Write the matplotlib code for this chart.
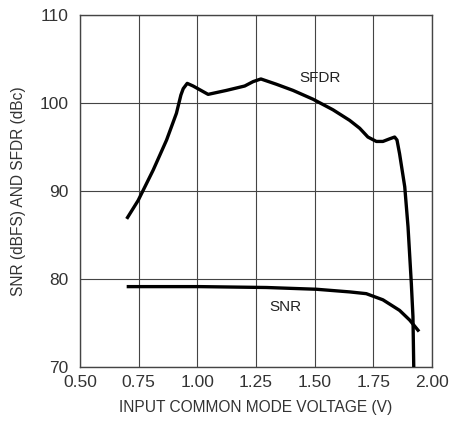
import matplotlib
matplotlib.use("Agg")
import matplotlib.pyplot as plt

# data
sfdr_v = [0.699, 0.748, 0.812, 0.869, 0.911, 0.930, 0.940, 0.957, 0.982, 1.046, 1.124,
          1.202, 1.238, 1.271, 1.337, 1.408, 1.493, 1.578, 1.649, 1.692, 1.727, 1.763,
          1.791, 1.820, 1.841, 1.851, 1.862, 1.884, 1.898, 1.912, 1.919, 1.923]
sfdr_db = [86.8, 88.9, 92.35, 95.76, 98.8, 100.87, 101.6, 102.2, 101.9, 100.95, 101.4,
           101.9, 102.4, 102.7, 102.1, 101.4, 100.4, 99.2, 98.0, 97.1, 96.1, 95.6,
           95.6, 95.9, 96.1, 95.76, 94.2, 90.45, 85.9, 79.5, 75.7, 69.0]

snr_v = [0.699, 1.011, 1.295, 1.508, 1.649, 1.720, 1.791, 1.862, 1.905, 1.945]
snr_db = [79.1, 79.1, 79.0, 78.8, 78.5, 78.3, 77.6, 76.4, 75.3, 74.0]

x_ticks = [0.50, 0.75, 1.00, 1.25, 1.50, 1.75, 2.00]
x_ticklabels = ["0.50", "0.75", "1.00", "1.25", "1.50", "1.75", "2.00"]
y_ticks = [70, 80, 90, 100, 110]

plt.rcParams["font.family"] = ["Liberation Sans", "DejaVu Sans"]

fig = plt.figure(figsize=(4.61, 4.21), dpi=100)
ax = fig.add_axes([0.1735, 0.129, 0.7635, 0.836])

ax.plot(sfdr_v, sfdr_db, color="black", lw=2.4, solid_capstyle="butt", zorder=3)
ax.plot(snr_v, snr_db, color="black", lw=2.4, solid_capstyle="butt", zorder=3)

ax.set_xlim(0.5, 2.0)
ax.set_ylim(70, 110)
ax.set_xticks(x_ticks)
ax.set_xticklabels(x_ticklabels)
ax.set_yticks(y_ticks)
ax.grid(True, color="#444444", lw=0.8)
ax.tick_params(length=0, labelsize=12.5, colors="#333333")
ax.tick_params(axis="x", pad=6)
ax.tick_params(axis="y", pad=8)
for s in ax.spines.values():
    s.set_color("#444444")
    s.set_linewidth(1.0)

ax.text(1.522, 102.84, "SFDR", fontsize=11, ha="center", va="center", color="#222222")
ax.text(1.376, 76.8, "SNR", fontsize=11, ha="center", va="center", color="#222222")

ax.set_xlabel("INPUT COMMON MODE VOLTAGE (V)", fontsize=11.2, color="#333333", labelpad=7)
ax.set_ylabel("SNR (dBFS) AND SFDR (dBc)", fontsize=11.2, color="#333333", labelpad=10)

fig.savefig("out.png", dpi=100)
